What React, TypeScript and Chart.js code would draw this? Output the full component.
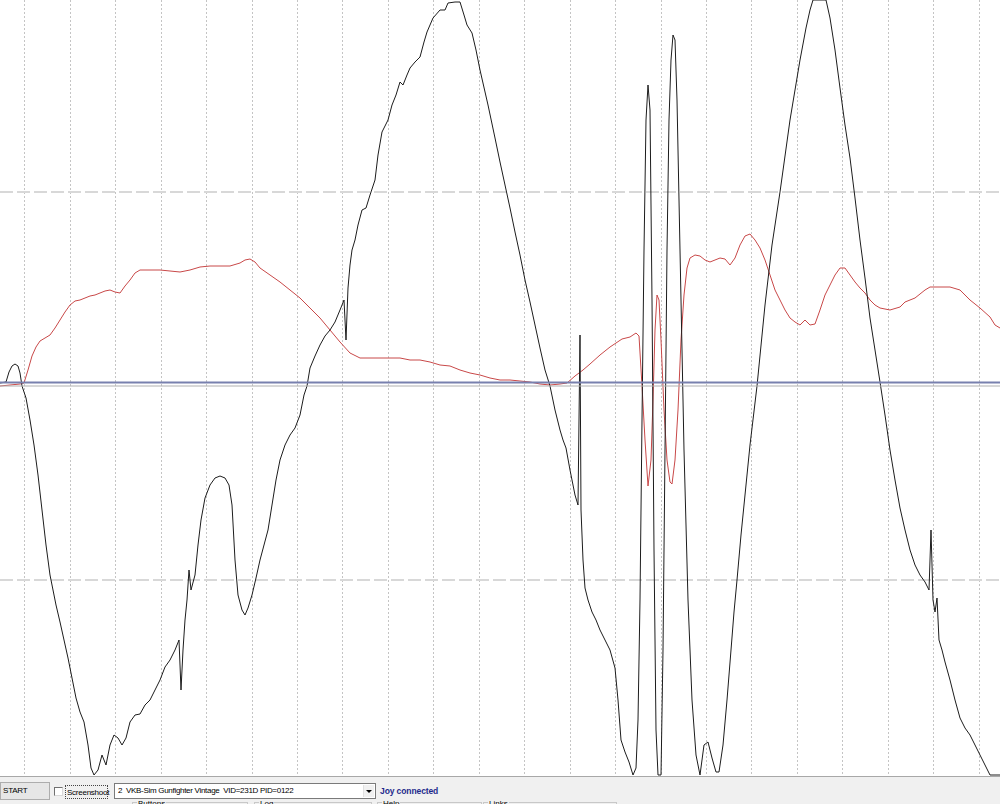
import React, { useEffect, useRef } from "react";
import { Chart, registerables } from "chart.js";

Chart.register(...registerables);

// Black trace (sample index, axis value)
const blackX = [0, 6, 9, 12, 15, 18, 20, 22, 26, 30, 34, 38, 42, 46, 50, 53, 56, 60, 64, 68, 72, 76, 80, 84, 88, 91, 94, 98, 102, 106, 110, 114, 118, 122, 126, 130, 135, 140, 145, 150, 155, 160, 165, 170, 175, 179, 181, 183, 185, 187, 189, 191, 195, 198, 201, 205, 210, 215, 220, 225, 229, 232, 235, 238, 242, 245, 248, 252, 256, 260, 264, 268, 272, 276, 280, 285, 290, 295, 300, 304, 307, 310, 315, 320, 325, 330, 335, 340, 344, 346, 348, 350, 352, 355, 358, 362, 366, 370, 375, 378, 382, 388, 392, 396, 400, 403, 407, 410, 415, 420, 424, 427, 433, 440, 445, 448, 455, 460, 464, 467, 472, 476, 480, 488, 495, 500, 505, 510, 515, 520, 525, 530, 535, 540, 545, 550, 555, 560, 563, 566, 570, 575, 578, 579, 580, 581, 583, 585, 588, 592, 596, 600, 605, 610, 615, 618, 621, 625, 629, 633, 636, 638, 640, 642, 644, 646, 648, 650, 652, 654, 656, 658, 661, 663, 665, 667, 669, 671, 673, 675, 677, 680, 684, 688, 692, 696, 700, 704, 708, 712, 716, 719, 723, 727, 731, 734, 737, 741, 745, 750, 757, 765, 772, 780, 790, 800, 806, 810, 813, 826, 830, 835, 840, 845, 850, 855, 860, 865, 870, 875, 880, 885, 890, 895, 900, 905, 910, 915, 920, 925, 929, 931, 933, 935, 937, 939, 942, 945, 950, 955, 960, 965, 970, 975, 980, 985, 990, 1000];
const blackY = [3, 4, 14, 20, 22, 20, 13, 0, -12, -34, -59, -89, -124, -159, -189, -204, -219, -236, -254, -272, -292, -312, -326, -336, -359, -382, -389, -384, -369, -379, -359, -349, -352, -359, -352, -336, -329, -328, -319, -314, -304, -294, -281, -274, -264, -254, -304, -264, -234, -214, -184, -204, -189, -159, -134, -112, -99, -92, -90, -92, -99, -119, -174, -209, -224, -229, -222, -209, -192, -174, -159, -144, -119, -94, -74, -59, -49, -42, -29, -9, 0, 18, 30, 41, 50, 56, 64, 76, 86, 46, 98, 121, 136, 146, 161, 176, 178, 191, 206, 231, 254, 266, 281, 291, 304, 301, 311, 318, 324, 329, 344, 354, 368, 376, 376, 383, 384, 384, 371, 361, 353, 336, 316, 281, 248, 224, 201, 178, 154, 131, 106, 84, 61, 38, 16, 0, -24, -44, -54, -62, -84, -109, -119, -34, 51, -124, -174, -202, -214, -226, -234, -244, -254, -264, -282, -314, -354, -366, -376, -389, -382, -334, -214, -34, 136, 266, 301, 276, 86, -164, -344, -389, -389, -264, -64, 136, 266, 326, 351, 346, 286, 136, -64, -214, -314, -369, -389, -359, -356, -372, -386, -386, -359, -314, -264, -226, -194, -149, -109, -59, 0, 81, 141, 194, 266, 326, 358, 376, 386, 386, 368, 336, 298, 261, 228, 188, 146, 108, 68, 36, 4, -29, -64, -94, -122, -144, -164, -179, -189, -196, -204, -144, -214, -226, -212, -254, -264, -276, -294, -314, -332, -342, -349, -359, -369, -379, -389, -389];

// Red trace (sample index, axis value)
const redX = [0, 10, 20, 24, 28, 32, 36, 40, 45, 50, 55, 60, 65, 70, 75, 80, 85, 90, 95, 100, 105, 110, 115, 120, 125, 130, 135, 140, 150, 160, 170, 180, 190, 200, 210, 220, 230, 240, 245, 250, 255, 260, 270, 280, 290, 300, 310, 320, 330, 340, 350, 360, 370, 380, 390, 400, 410, 420, 430, 440, 450, 460, 470, 480, 490, 500, 510, 520, 530, 540, 550, 560, 567, 575, 583, 590, 600, 610, 622, 630, 636, 639, 642, 645, 648, 651, 653, 655, 657, 659, 661, 664, 667, 670, 672, 675, 678, 681, 684, 687, 690, 695, 700, 705, 710, 715, 720, 725, 730, 735, 740, 745, 750, 755, 760, 765, 770, 775, 780, 785, 790, 795, 800, 805, 810, 815, 820, 825, 830, 835, 840, 845, 850, 855, 860, 865, 870, 875, 880, 890, 900, 905, 910, 915, 920, 925, 930, 940, 950, 960, 965, 970, 980, 990, 995, 1000];
const redY = [0, 1, 2, 3, 16, 30, 39, 45, 48, 51, 58, 66, 74, 81, 85, 86, 88, 90, 91, 93, 95, 96, 94, 93, 100, 106, 113, 116, 116, 116, 115, 114, 116, 119, 120, 120, 120, 123, 126, 127, 124, 118, 111, 104, 96, 88, 78, 68, 56, 44, 33, 28, 28, 28, 28, 28, 26, 26, 24, 21, 20, 16, 13, 11, 8, 6, 6, 5, 4, 2, 1, 2, 3, 10, 16, 22, 31, 39, 47, 49, 53, 50, 0, -54, -100, -74, -14, 56, 91, 86, 46, -24, -74, -96, -98, -74, -24, 46, 91, 118, 128, 131, 130, 126, 124, 126, 128, 127, 121, 128, 141, 150, 152, 146, 138, 126, 111, 96, 86, 76, 68, 64, 61, 66, 61, 62, 76, 91, 101, 111, 118, 118, 111, 104, 98, 93, 86, 81, 78, 76, 79, 84, 86, 88, 92, 96, 99, 99, 99, 96, 91, 86, 78, 69, 61, 58];

// Reference levels
const blueLevel = 3.5;
const grayLevel = 0;

// Grid ticks
const xGridTicks = [24.7, 70.2, 115.6, 161.1, 206.6, 252.1, 297.6, 342.9, 388.3, 433.8, 479.3, 524.7, 570.2, 615.7, 661.1, 706.4, 751.9, 797.4, 842.9, 888.3, 933.8, 979.3];
const yGridTicks = [-194, 194];

const X_MIN = 0;
const X_MAX = 1000;
const Y_MIN = -390;
const Y_MAX = 386;

const uiFont = '"Liberation Sans", Arial, sans-serif';

export default function App() {
  const canvasRef = useRef<HTMLCanvasElement | null>(null);

  useEffect(() => {
    const canvas = canvasRef.current;
    if (!canvas) return;
    const toPts = (xs: number[], ys: number[]) => xs.map((x, i) => ({ x, y: ys[i] }));
    const chart = new Chart(canvas, {
      type: "line",
      data: {
        datasets: [
          {
            data: [{ x: X_MIN, y: blueLevel }, { x: X_MAX, y: blueLevel }],
            borderColor: "#7880ae",
            borderWidth: 2,
            pointRadius: 0,
          },
          {
            data: [{ x: X_MIN, y: grayLevel }, { x: X_MAX, y: grayLevel }],
            borderColor: "#b0b0b0",
            borderWidth: 1,
            pointRadius: 0,
          },
          {
            data: toPts(blackX, blackY),
            borderColor: "#1c1c1c",
            borderWidth: 1,
            pointRadius: 0,
            tension: 0,
            borderJoinStyle: "round",
          },
          {
            data: toPts(redX, redY),
            borderColor: "#c84848",
            borderWidth: 1,
            pointRadius: 0,
            tension: 0,
            borderJoinStyle: "round",
          },
        ],
      },
      options: {
        responsive: false,
        animation: false,
        devicePixelRatio: 1,
        events: [],
        layout: { padding: 0 },
        plugins: { legend: { display: false }, tooltip: { enabled: false } },
        scales: {
          x: {
            type: "linear",
            min: X_MIN,
            max: X_MAX,
            ticks: { display: false },
            grid: { color: "#c4c4c4", lineWidth: 1, drawTicks: false },
            border: { display: false, dash: [2, 2] },
            afterBuildTicks: (s: any) => {
              s.ticks = xGridTicks.map((v) => ({ value: v }));
            },
          },
          y: {
            type: "linear",
            min: Y_MIN,
            max: Y_MAX,
            ticks: { display: false },
            grid: { color: "#d8d8d8", lineWidth: 2, drawTicks: false },
            border: { display: false, dash: [13, 4] },
            afterBuildTicks: (s: any) => {
              s.ticks = yGridTicks.map((v) => ({ value: v }));
            },
          },
        },
      } as any,
    });
    return () => chart.destroy();
  }, []);

  const groups = [
    { left: 132, width: 116, label: "Buttons" },
    { left: 254, width: 118, label: "Log" },
    { left: 377, width: 105, label: "Help" },
    { left: 483, width: 134, label: "Links" },
  ];

  return (
    <div
      style={{
        position: "fixed",
        left: 0,
        top: 0,
        width: 1000,
        height: 804,
        background: "#ffffff",
        overflow: "hidden",
        fontFamily: uiFont,
      }}
    >
      <canvas ref={canvasRef} width={1000} height={776} style={{ display: "block", position: "absolute", left: 0, top: 0 }} />
      <div
        style={{
          position: "absolute",
          left: 0,
          top: 776,
          width: 1000,
          height: 28,
          background: "#f0f0f0",
          borderTop: "1px solid #a8a8a8",
          boxSizing: "border-box",
          fontSize: 8,
          color: "#000",
        }}
      >
        {/* START button */}
        <div
          style={{
            position: "absolute",
            left: 0,
            top: 5,
            width: 50,
            height: 18,
            boxSizing: "border-box",
            background: "#e6e6e6",
            border: "1px solid #adadad",
            lineHeight: "16px",
            paddingLeft: 2,
            letterSpacing: -0.2,
          }}
        >
          START
        </div>
        {/* checkbox */}
        <div
          style={{
            position: "absolute",
            left: 54,
            top: 10,
            width: 9,
            height: 9,
            boxSizing: "border-box",
            background: "#ffffff",
            borderTop: "1px solid #707070",
            borderLeft: "1px solid #707070",
            borderRight: "1px solid #d8d8d8",
            borderBottom: "1px solid #d8d8d8",
          }}
        />
        <div
          style={{
            position: "absolute",
            left: 65,
            top: 8,
            width: 43,
            height: 14,
            boxSizing: "border-box",
            border: "1px dotted #444",
            lineHeight: "13px",
            paddingLeft: 1,
            letterSpacing: -0.25,
            whiteSpace: "nowrap",
          }}
        >
          Screenshoot
        </div>
        {/* combo box */}
        <div
          style={{
            position: "absolute",
            left: 114,
            top: 6,
            width: 262,
            height: 16,
            boxSizing: "border-box",
            background: "#ffffff",
            border: "1px solid #7a7a7a",
            lineHeight: "14px",
            paddingLeft: 3,
            whiteSpace: "pre",
            letterSpacing: -0.3,
          }}
        >
          {"2  VKB-Sim Gunfighter Vintage  VID=231D PID=0122"}
          <div
            style={{
              position: "absolute",
              right: 1,
              top: 1,
              width: 10,
              height: 12,
              background: "#f0f0f0",
              borderLeft: "1px solid #e0e0e0",
            }}
          >
            <div
              style={{
                position: "absolute",
                left: 2,
                top: 5,
                width: 0,
                height: 0,
                borderLeft: "3px solid transparent",
                borderRight: "3px solid transparent",
                borderTop: "3px solid #000",
              }}
            />
          </div>
        </div>
        <div
          style={{
            position: "absolute",
            left: 380,
            top: 8,
            lineHeight: "12px",
            fontWeight: "bold",
            color: "#1e2a8c",
            fontSize: 8.5,
            letterSpacing: -0.1,
            whiteSpace: "nowrap",
          }}
        >
          Joy connected
        </div>
        {/* group boxes (cut off) */}
        {groups.map((g) => (
          <div
            key={g.label}
            style={{
              position: "absolute",
              left: g.left,
              top: 25,
              width: g.width,
              height: 10,
              boxSizing: "border-box",
              borderTop: "1px solid #c8c8c8",
              borderLeft: "1px solid #c8c8c8",
              borderRight: "1px solid #c8c8c8",
            }}
          >
            <span
              style={{
                position: "absolute",
                left: 4,
                top: -4,
                background: "#f0f0f0",
                padding: "0 1px",
                lineHeight: "10px",
                fontSize: 8,
              }}
            >
              {g.label}
            </span>
          </div>
        ))}
      </div>
    </div>
  );
}
